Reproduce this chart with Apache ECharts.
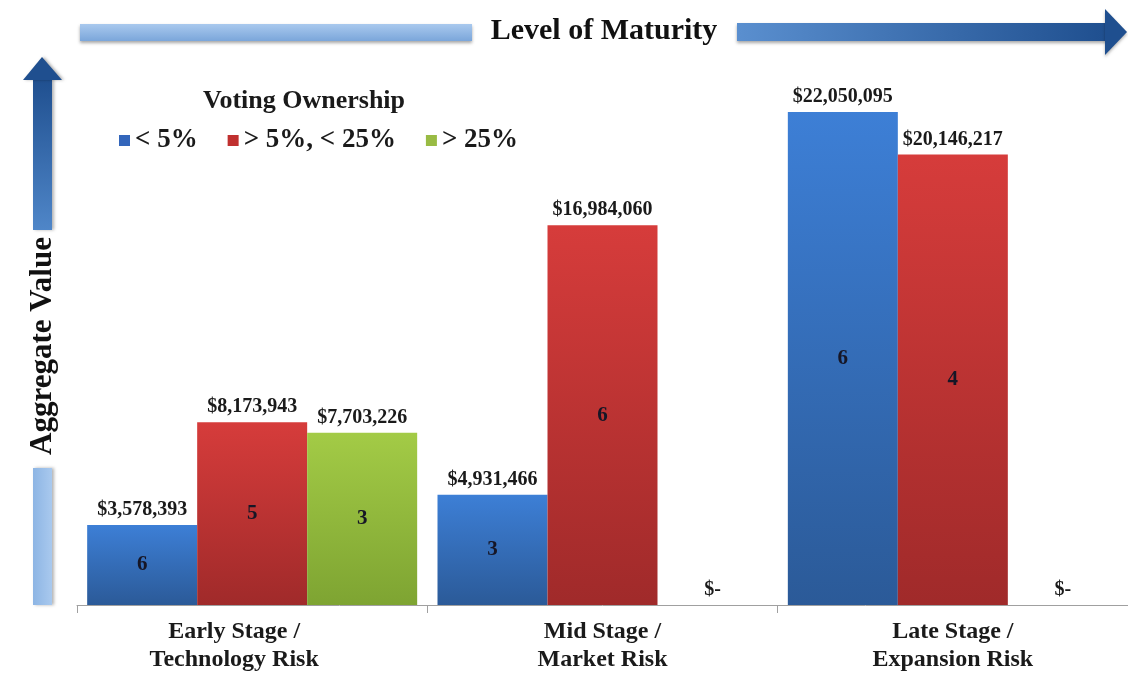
<!DOCTYPE html>
<html>
<head>
<meta charset="utf-8">
<script src="https://cdn.jsdelivr.net/npm/echarts@6/dist/echarts.min.js"></script>
<style>html,body{margin:0;padding:0;background:#fff;}#c{width:1128px;height:680px;}</style>
</head>
<body>
<div id="c"></div>
<script>
var categories = ['Early Stage /\nTechnology Risk', 'Mid Stage /\nMarket Risk', 'Late Stage /\nExpansion Risk'];
var seriesNames = ['< 5%', '> 5%, < 25%', '> 25%'];
var valuesLt5 = [3578393, 4931466, 22050095];
var values5to25 = [8173943, 16984060, 20146217];
var valuesGt25 = [7703226, 0, 0];
var countsLt5 = [6, 3, 6];
var counts5to25 = [5, 6, 4];
var countsGt25 = [3, null, null];

var FONT = "'Liberation Serif','Times New Roman',serif";
var chart = echarts.init(document.getElementById('c'));

function grad(top, bottom) {
  return new echarts.graphic.LinearGradient(0, 0, 0, 1, [{offset: 0, color: top}, {offset: 1, color: bottom}]);
}
function fmtMoney(v) {
  if (!v) return '$-';
  return '$' + v.toString().replace(/\B(?=(\d{3})+(?!\d))/g, ',');
}
var colorsTop = ['#3d7fd6', '#d63c3b', '#a3cb46'];
var colorsBot = ['#2b5a98', '#a02a2a', '#7ea432'];
var legendColors = ['#3366bb', '#c0302f', '#99bb44'];
var valueSets = [valuesLt5, values5to25, valuesGt25];
var countSets = [countsLt5, counts5to25, countsGt25];

var series = [];
for (var i = 0; i < 3; i++) {
  (function (i) {
    series.push({
      name: seriesNames[i],
      type: 'bar',
      stack: 's' + i,
      barWidth: 110,
      barGap: 0,
      data: valueSets[i],
      itemStyle: {color: grad(colorsTop[i], colorsBot[i])},
      label: {
        show: true,
        position: 'inside',
        fontFamily: FONT,
        fontWeight: 'bold',
        fontSize: 21,
        color: '#161626',
        formatter: function (p) {
          var c = countSets[i][p.dataIndex];
          return c == null ? '' : String(c);
        }
      },
      emphasis: {disabled: true}
    });
    series.push({
      name: 'lbl' + i,
      type: 'bar',
      stack: 's' + i,
      barWidth: 110,
      barGap: 0,
      data: valueSets[i].map(function () { return 0; }),
      itemStyle: {color: 'rgba(0,0,0,0)'},
      label: {
        show: true,
        position: 'top',
        distance: 5,
        fontFamily: FONT,
        fontWeight: 'bold',
        fontSize: 20,
        color: '#1a1a1a',
        formatter: function (p) {
          var v = valueSets[i][p.dataIndex];
          return fmtMoney(v);
        }
      },
      emphasis: {disabled: true},
      silent: true
    });
  })(i);
}

var option = {
  animation: false,
  backgroundColor: '#ffffff',
  title: {
    text: 'Voting Ownership',
    left: 198,
    top: 83,
    textStyle: {fontFamily: FONT, fontWeight: 'bold', fontSize: 26, color: '#1a1a1a'}
  },
  legend: {
    data: seriesNames.map(function (n, k) { return {name: n, itemStyle: {color: legendColors[k]}}; }),
    left: 114,
    top: 122,
    icon: 'rect',
    itemWidth: 11,
    itemHeight: 11,
    itemGap: 30,
    textStyle: {fontFamily: FONT, fontWeight: 'bold', fontSize: 27, color: '#1a1a1a'}
  },
  grid: {left: 77, top: 46, width: 1062, bottom: 75, containLabel: false},
  xAxis: {
    type: 'category',
    data: categories,
    axisLine: {lineStyle: {color: '#a0a0a0', width: 1}},
    axisTick: {show: true, length: 8, lineStyle: {color: '#a0a0a0'}},
    axisLabel: {
      fontFamily: FONT, fontWeight: 'bold', fontSize: 24, color: '#1a1a1a',
      lineHeight: 28, margin: 13,
      formatter: function (value, idx) {
        var tag = idx === 0 ? 'l' : 'n';
        return value.split('\n').map(function (s) { return '{' + tag + '|' + s + '}'; }).join('\n');
      },
      rich: {
        l: {fontFamily: FONT, fontWeight: 'bold', fontSize: 24, color: '#1a1a1a', lineHeight: 28, padding: [0, 36, 0, 0]},
        n: {fontFamily: FONT, fontWeight: 'bold', fontSize: 24, color: '#1a1a1a', lineHeight: 28}
      }
    }
  },
  yAxis: {
    type: 'value',
    min: 0,
    max: 25000000,
    show: false,
    splitLine: {show: false}
  },
  series: series,
  graphic: [
    {type: 'rect', shape: {x: 80, y: 24, width: 392, height: 17},
      style: {fill: new echarts.graphic.LinearGradient(0, 0, 0, 1, [{offset: 0, color: '#a9c9ee'}, {offset: 1, color: '#7ba6da'}]),
        shadowBlur: 3, shadowColor: 'rgba(0,0,0,0.35)', shadowOffsetY: 2}},
    {type: 'rect', shape: {x: 737, y: 23, width: 370, height: 18},
      style: {fill: new echarts.graphic.LinearGradient(0, 0, 1, 0, [{offset: 0, color: '#5a8fcf'}, {offset: 1, color: '#1f4f8f'}]),
        shadowBlur: 3, shadowColor: 'rgba(0,0,0,0.35)', shadowOffsetY: 2}},
    {type: 'polygon', shape: {points: [[1105, 9], [1127, 32], [1105, 55]]},
      style: {fill: '#1f4f8f', shadowBlur: 3, shadowColor: 'rgba(0,0,0,0.3)', shadowOffsetY: 2}},
    {type: 'text', x: 604, y: 31,
      style: {text: 'Level of Maturity', fontFamily: FONT, fontWeight: 'bold', fontSize: 30, fill: '#111', align: 'center', verticalAlign: 'middle'}},
    {type: 'rect', shape: {x: 33, y: 468, width: 19, height: 137},
      style: {fill: new echarts.graphic.LinearGradient(0, 0, 1, 0, [{offset: 0, color: '#8db5e4'}, {offset: 1, color: '#a9c9ee'}]),
        shadowBlur: 3, shadowColor: 'rgba(0,0,0,0.3)', shadowOffsetX: 2}},
    {type: 'rect', shape: {x: 33, y: 78, width: 19, height: 152},
      style: {fill: new echarts.graphic.LinearGradient(0, 0, 0, 1, [{offset: 0, color: '#1f4f8f'}, {offset: 1, color: '#4f86c8'}]),
        shadowBlur: 3, shadowColor: 'rgba(0,0,0,0.3)', shadowOffsetX: 2}},
    {type: 'polygon', shape: {points: [[42, 57], [23, 80], [62, 80]]},
      style: {fill: '#1f4f8f', shadowBlur: 3, shadowColor: 'rgba(0,0,0,0.3)', shadowOffsetX: 2}},
    {type: 'text', x: 43, y: 346, rotation: Math.PI / 2,
      style: {text: 'Aggregate Value', fontFamily: FONT, fontWeight: 'bold', fontSize: 31, fill: '#111', align: 'center', verticalAlign: 'middle'}}
  ]
};
chart.setOption(option);
</script>
</body>
</html>
